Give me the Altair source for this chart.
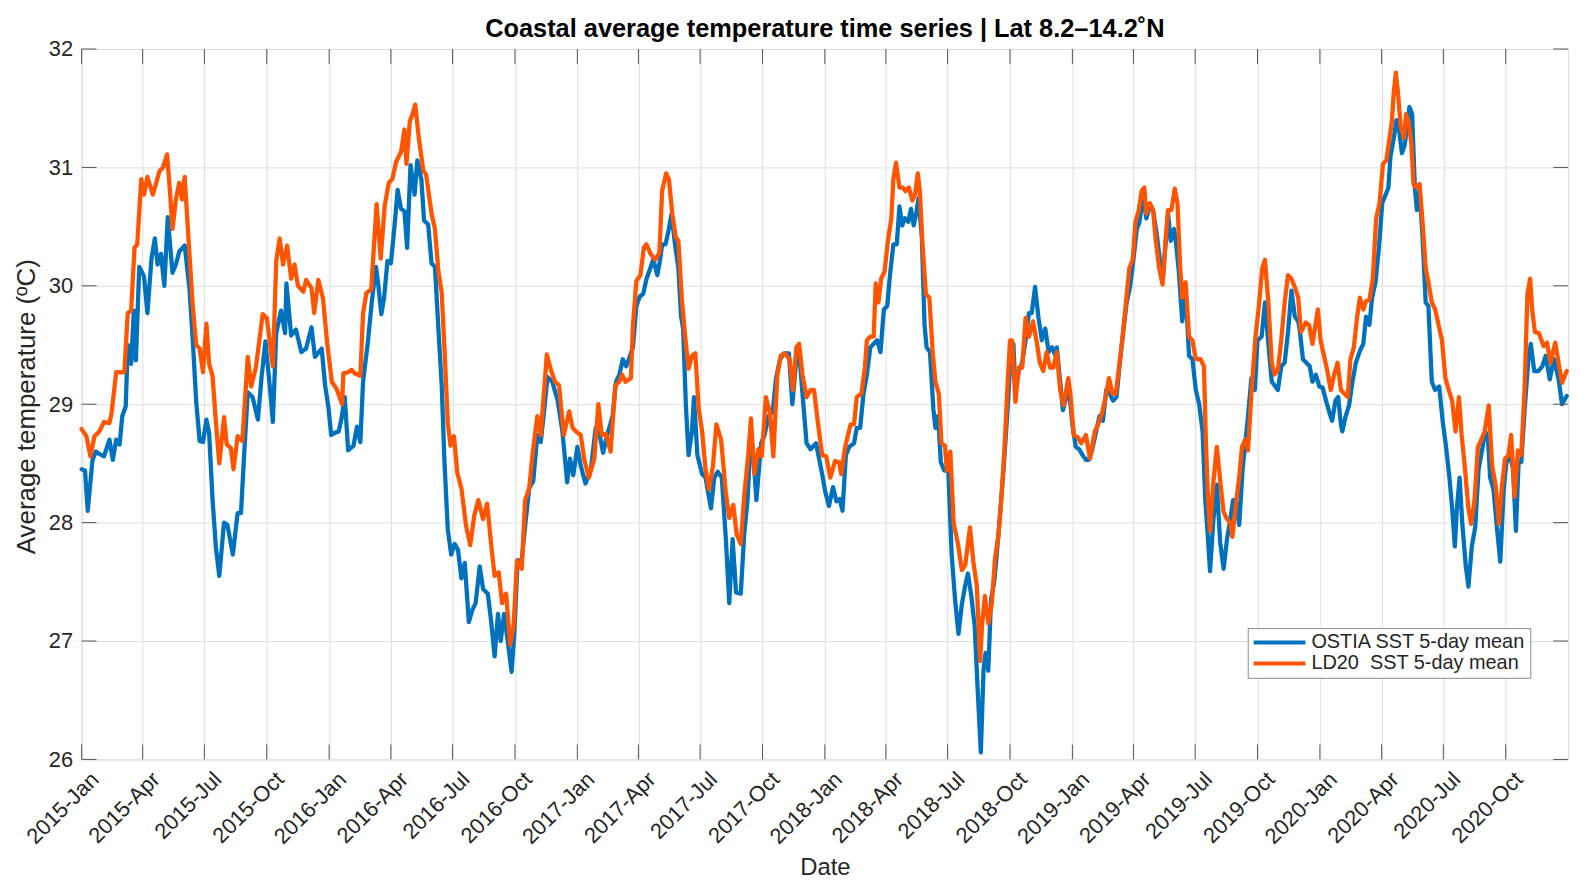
import altair as alt
import pandas as pd

FONT = "Liberation Sans"
TITLE = "Coastal average temperature time series | Lat 8.2–14.2˚N"
series_names = ["OSTIA SST 5-day mean", "LD20\u00a0 SST 5-day mean"]
series_colors = ["#0072BD", "#FF5500"]

# (day of year, temperature) pairs
ostia_2015 = [(0,28.45),(5,28.44),(9,28.1),(16,28.53),(21,28.6),(26,28.58),(33,28.56),(41,28.7),(46,28.53),(51,28.7),
              (56,28.66),(60,28.9),(65,28.98),(68,29.5),(73,29.34),(77,29.79),(80,29.37),(85,30.16),(92,30.08),(97,29.77),
              (103,30.23),(108,30.4),(112,30.18),(117,30.27),(122,30.0),(127,30.58),(134,30.11),(139,30.18),(144,30.29),(152,30.34),
              (159,29.98),(164,29.53),(169,29.02),(174,28.69),(179,28.68),(184,28.87),(188,28.76),(193,28.2),(198,27.79),(203,27.55),
              (210,28.0),(215,27.98),(223,27.73),(230,28.08),(235,28.08),(240,28.61),(245,29.1),(252,29.06),(260,28.87),(265,29.21),
              (271,29.53),(277,29.18),(282,28.85),(287,29.6),(294,29.79),(300,29.6),(302,30.02),(309,29.58),(316,29.63),(324,29.44),
              (331,29.47),(339,29.65),(344,29.4),(354,29.47)]
ostia_2016 = [(-6,29.16),(-1,28.97),(3,28.74),(9,28.76),(14,28.77),(18,28.87),(23,29.06),(28,28.61),(36,28.65),(41,28.81),
              (46,28.68),(50,29.19),(57,29.52),(63,29.87),(69,30.16),(72,30.03),(77,29.76),(81,29.9),(86,30.21),(91,30.19),
              (96,30.48),(101,30.81),(106,30.65),(111,30.63),(115,30.32),(120,31.02),(126,30.77),(130,31.06),(136,30.9),(140,30.55),
              (146,30.52),(151,30.19),(156,30.16),(161,29.65),(166,29.16),(170,28.52),(175,27.94),(180,27.73),(185,27.82),(190,27.77),
              (195,27.53),(200,27.66),(206,27.16),(211,27.26),(216,27.32),(222,27.63),(227,27.44),(234,27.4),(239,27.16),(244,26.87),
              (249,27.23),(253,27.0),(258,27.23),(264,26.97),(269,26.74),(273,27.06),(278,27.68),(284,27.68),(289,27.97),(295,28.29),
              (301,28.35),(307,28.74),(312,28.68),(317,28.94),(322,29.23),(329,29.19),(337,29.03),(344,28.77),(351,28.34)]
ostia_2017 = [(-11,28.54),(-6,28.4),(0,28.64),(5,28.48),(12,28.33),(20,28.45),(27,28.8),(33,28.74),(38,28.59),(44,28.74),
              (52,28.9),(57,29.19),(62,29.25),(67,29.38),(72,29.32),(76,29.38),(82,29.48),(87,29.83),(92,29.91),(97,29.93),
              (102,30.06),(107,30.14),(112,30.22),(118,30.09),(122,30.22),(125,30.35),(130,30.35),(135,30.48),(139,30.61),(144,30.35),
              (149,30.15),(153,29.74),(156,29.64),(160,29.0),(164,28.57),(169,28.77),(172,29.06),(177,28.57),(184,28.41),(189,28.38),
              (197,28.12),(202,28.38),(207,28.43),(213,28.38),(219,27.86),(224,27.32),(229,27.86),(234,27.41),(241,27.4),(246,27.9),
              (251,28.19),(256,28.77),(261,28.45),(264,28.19),(271,28.67),(276,28.74),(282,28.9),(288,28.93),(293,29.22),(299,29.38),
              (305,29.43),(312,29.43),(317,29.0),(322,29.32),(327,29.45),(332,29.09),(338,28.67),(344,28.62),(352,28.67)]
ostia_2018 = [(-4,28.41),(1,28.25),(6,28.14),(12,28.3),(17,28.18),(22,28.2),(26,28.1),(31,28.57),(36,28.64),(43,28.67),
              (47,28.8),(52,28.8),(57,29.09),(62,29.25),(67,29.48),(72,29.51),(77,29.54),(82,29.44),(87,29.8),(92,29.83),
              (96,30.09),(101,30.35),(106,30.35),(110,30.67),(114,30.51),(118,30.57),(123,30.54),(127,30.65),(131,30.51),(135,30.62),
              (138,30.74),(143,30.41),(147,29.67),(150,29.48),(155,29.44),(160,28.96),(163,28.8),(167,28.9),(171,28.51),(176,28.44),
              (182,28.44),(187,27.73),(192,27.35),(197,27.06),(202,27.31),(207,27.47),(211,27.57),(216,27.38),(221,27.12),(226,26.51),
              (230,26.06),(234,26.76),(237,26.9),(241,26.75),(245,27.35),(250,27.51),(253,27.7),(258,28.05),(263,28.41),(268,28.83),
              (273,29.31),(278,29.51),(281,29.12),(286,29.28),(291,29.35),(296,29.54),(301,29.77),(305,29.77),(310,29.99),(315,29.73),
              (320,29.54),(325,29.64),(330,29.44),(335,29.48),(340,29.41)]
ostia_2019 = [(-23,29.48),(-18,29.19),(-14,28.95),(-9,29.06),(-5,29.12),(0,28.83),(5,28.64),(10,28.62),(15,28.57),(20,28.53),
              (24,28.53),(29,28.61),(35,28.77),(40,28.9),(45,28.86),(50,29.12),(55,29.09),(60,29.03),(65,29.06),(70,29.35),
              (75,29.61),(80,29.86),(85,29.99),(90,30.22),(95,30.48),(99,30.54),(104,30.77),(109,30.57),(114,30.67),(119,30.64),
              (124,30.45),(129,30.22),(133,30.03),(137,30.32),(141,30.61),(145,30.38),(150,30.48),(153,30.35),(157,30.12),(162,29.7),
              (167,29.96),(172,29.41),(177,29.38),(182,29.12),(187,29.0),(192,28.77),(196,28.19),(200,27.86),(203,27.59),(208,28.03),
              (213,28.32),(218,27.83),(223,27.61),(228,27.86),(233,28.03),(237,28.19),(241,28.19),(246,27.98),(251,28.45),(255,28.67),
              (259,28.9),(264,29.22),(269,29.12),(273,29.54),(279,29.57),(284,29.86),(289,29.51),(294,29.19),(298,29.16),(303,29.12),
              (308,29.32),(313,29.35),(318,29.61),(323,29.96),(328,29.74),(333,29.7)]
ostia_2020 = [(-30,29.64),(-25,29.38),(-20,29.35),(-15,29.32),(-11,29.19),(-6,29.25),(-1,29.15),(4,29.14),(9,29.03),(14,28.93),
              (18,28.86),(23,29.03),(27,29.06),(31,28.83),(33,28.77),(38,28.9),(43,28.99),(48,29.19),(53,29.35),(59,29.45),
              (64,29.51),(68,29.74),(73,29.67),(77,29.9),(82,30.03),(87,30.32),(92,30.7),(97,30.77),(101,30.83),(104,31.09),
              (109,31.25),(113,31.4),(116,31.35),(121,31.12),(125,31.19),(129,31.36),(132,31.51),(136,31.45),(140,30.83),(143,30.64),
              (147,30.8),(151,30.45),(156,29.86),(160,29.83),(165,29.19),(170,29.12),(176,29.15),(181,28.86),(186,28.64),(191,28.38),
              (195,28.12),(199,27.8),(202,28.12),(206,28.38),(210,27.99),(215,27.64),(219,27.46),(224,27.8),(229,27.96),(234,28.45),
              (239,28.61),(244,28.77),(248,28.7),(251,28.38),(256,28.28),(261,27.96),(266,27.67),(271,28.28),(275,28.51),(280,28.57),
              (285,28.45),(289,27.93),(293,28.51),(297,28.51),(302,28.96),(307,29.35),(311,29.51),(316,29.28),(322,29.28),(328,29.32),
              (333,29.41),(339,29.21),(345,29.38),(352,29.21),(357,29.0),(364,29.07)]

ld20_2015 = [(0,28.79),(7,28.73),(13,28.56),(19,28.73),(26,28.77),(33,28.85),(41,28.84),(44,28.92),(51,29.27),(58,29.27),
             (63,29.27),(68,29.77),(73,29.79),(78,30.32),(82,30.35),(88,30.9),(92,30.77),(97,30.92),(105,30.77),(110,30.87),
             (115,30.97),(120,31.0),(126,31.11),(130,30.82),(134,30.48),(139,30.73),(144,30.87),(148,30.73),(152,30.92),(159,30.27),
             (164,29.82),(169,29.5),(174,29.47),(179,29.27),(184,29.68),(188,29.34),(193,29.24),(198,28.85),(203,28.5),(210,28.89),
             (214,28.66),(220,28.63),(224,28.45),(230,28.73),(237,28.69),(245,29.4),(250,29.15),(257,29.31),(267,29.76),(273,29.73),
             (282,29.32),(287,30.21),(292,30.4),(297,30.18),(303,30.34),(309,30.06),(314,30.18),(319,30.0),(327,29.95),(331,30.05),
             (339,29.98),(343,29.77),(349,30.05),(356,29.89)]
ld20_2016 = [(-3,29.52),(4,29.19),(11,29.13),(19,29.0),(21,29.26),(28,29.27),(33,29.29),(38,29.26),(46,29.24),(50,29.77),
             (55,29.94),(62,29.97),(70,30.69),(76,30.23),(82,30.68),(88,30.87),(93,30.9),(99,31.05),(106,31.13),(111,31.32),
             (114,31.03),(119,31.39),(123,31.45),(127,31.53),(132,31.26),(139,30.97),(143,30.94),(151,30.61),(156,30.48),(161,30.13),
             (166,29.94),(170,29.48),(175,28.84),(179,28.65),(184,28.73),(189,28.42),(195,28.29),(202,27.97),(208,27.81),(214,28.06),
             (220,28.19),(227,28.03),(233,28.16),(239,27.81),(244,27.55),(250,27.58),(255,27.32),(261,27.4),(267,26.97),(272,27.13),
             (277,27.68),(284,27.61),(289,28.19),(295,28.29),(300,28.58),(307,28.9),(312,28.74),(321,29.42),(327,29.29),(333,29.19),
             (339,29.16),(346,28.74),(354,28.94)]
ld20_2017 = [(-7,28.8),(-2,28.77),(5,28.74),(10,28.54),(17,28.38),(25,28.54),(31,29.0),(36,28.74),(42,28.75),(49,28.6),
             (56,29.16),(62,29.19),(66,29.25),(71,29.19),(79,29.22),(82,29.67),(87,30.04),(93,30.09),(98,30.32),(102,30.35),
             (108,30.27),(115,30.22),(121,30.28),(125,30.8),(131,30.95),(135,30.9),(140,30.61),(145,30.41),(149,30.38),(154,29.9),
             (159,29.57),(164,29.3),(169,29.41),(174,29.43),(179,28.96),(184,28.77),(189,28.45),(194,28.28),(200,28.48),(205,28.83),
             (212,28.7),(219,28.25),(224,28.04),(230,28.15),(235,27.9),(241,27.82),(246,28.22),(252,28.57),(256,28.88),(261,28.41),
             (267,28.62),(272,28.56),(278,29.06),(284,28.93),(289,28.56),(295,29.25),(300,29.41),(306,29.43),(313,29.38),(318,29.12),
             (323,29.48),(327,29.51),(332,29.25),(338,29.06),(344,29.12),(349,29.12)]
ld20_2018 = [(-10,28.83),(-4,28.57),(2,28.56),(8,28.38),(15,28.52),(21,28.51),(24,28.41),(30,28.64),(38,28.83),(43,28.83),
             (47,29.06),(54,29.09),(59,29.31),(62,29.54),(67,29.57),(72,29.57),(75,30.02),(79,29.86),(83,30.06),(88,30.12),
             (93,30.38),(98,30.57),(101,30.9),(105,31.04),(110,30.83),(115,30.83),(119,30.8),(124,30.83),(129,30.72),(133,30.77),
             (137,30.95),(140,30.8),(144,30.35),(149,29.93),(154,29.9),(159,29.44),(163,29.19),(168,29.09),(172,28.67),(177,28.65),
             (180,28.44),(185,28.6),(190,27.99),(196,27.83),(202,27.6),(207,27.64),(214,27.96),(219,27.67),(224,27.47),(229,26.83),
             (232,27.15),(236,27.38),(241,27.15),(246,27.31),(251,27.7),(256,27.89),(260,28.18),(265,28.64),(269,29.12),(273,29.54),
             (276,29.54),(281,29.02),(286,29.31),(291,29.31),(296,29.73),(301,29.57),(307,29.7),(312,29.54),(317,29.35),(322,29.28),
             (327,29.44),(332,29.31),(337,29.31),(342,29.44)]
ld20_2019 = [(-18,29.12),(-13,28.99),(-6,29.22),(-3,29.09),(2,28.74),(8,28.72),(13,28.67),(20,28.74),(26,28.54),(33,28.77),
             (38,28.83),(44,28.93),(49,29.06),(54,29.22),(59,29.09),(64,29.09),(69,29.32),(74,29.57),(79,29.86),(84,30.15),
             (89,30.22),(93,30.54),(98,30.64),(102,30.8),(106,30.83),(109,30.61),(114,30.7),(119,30.64),(123,30.38),(128,30.15),
             (133,30.01),(137,30.35),(141,30.64),(146,30.64),(151,30.82),(155,30.7),(159,30.15),(162,29.9),(167,30.03),(172,29.57),
             (177,29.54),(182,29.38),(189,29.38),(194,29.32),(197,28.67),(200,28.19),(203,27.93),(208,28.35),(213,28.64),(218,28.35),
             (223,28.09),(228,28.03),(233,28.0),(236,27.88),(241,28.15),(246,28.38),(250,28.64),(255,28.7),(259,28.61),(264,29.09),
             (270,29.57),(275,29.83),(280,30.15),(284,30.22),(289,29.86),(294,29.35),(298,29.25),(303,29.29),(308,29.54),(313,29.86),
             (318,30.09),(323,30.06),(328,29.99),(333,29.9)]
ld20_2020 = [(-28,29.61),(-21,29.69),(-16,29.67),(-11,29.51),(-3,29.8),(1,29.54),(6,29.41),(11,29.28),(16,29.12),(21,29.25),
             (26,29.35),(31,29.12),(36,29.09),(41,29.06),(45,29.38),(50,29.48),(55,29.74),(59,29.9),(64,29.8),(68,29.87),
             (73,29.88),(78,30.06),(83,30.57),(88,30.7),(93,31.03),(98,31.06),(102,31.22),(106,31.38),(109,31.64),(112,31.8),
             (115,31.64),(119,31.35),(124,31.25),(127,31.45),(131,31.38),(135,31.19),(138,30.86),(142,30.83),(147,30.86),(151,30.57),
             (156,30.15),(160,30.03),(165,29.86),(170,29.8),(175,29.67),(180,29.54),(185,29.22),(190,29.12),(195,29.03),(200,28.77),
             (205,29.06),(209,28.74),(214,28.45),(219,28.12),(223,27.99),(228,28.19),(233,28.64),(238,28.7),(243,28.77),(249,28.99),
             (254,28.48),(259,28.32),(264,27.99),(268,28.28),(273,28.54),(278,28.57),(282,28.74),(287,28.22),(292,28.61),(297,28.57),
             (302,29.15),(306,29.93),(310,30.06),(313,29.8),(317,29.61),(323,29.6),(330,29.49),(335,29.52),(340,29.35),(347,29.52),
             (352,29.35),(357,29.18),(364,29.28)]

quarter_ticks = ["2015-01-01","2015-04-01","2015-07-01","2015-10-01",
                 "2016-01-01","2016-04-01","2016-07-01","2016-10-01",
                 "2017-01-01","2017-04-01","2017-07-01","2017-10-01",
                 "2018-01-01","2018-04-01","2018-07-01","2018-10-01",
                 "2019-01-01","2019-04-01","2019-07-01","2019-10-01",
                 "2020-01-01","2020-04-01","2020-07-01","2020-10-01"]
y_ticks = [26, 27, 28, 29, 30, 31, 32]

ostia_years = {2015: ostia_2015, 2016: ostia_2016, 2017: ostia_2017, 2018: ostia_2018, 2019: ostia_2019, 2020: ostia_2020}
ld20_years = {2015: ld20_2015, 2016: ld20_2016, 2017: ld20_2017, 2018: ld20_2018, 2019: ld20_2019, 2020: ld20_2020}

rows = []
for name, years in [(series_names[0], ostia_years), (series_names[1], ld20_years)]:
    for year, pairs in years.items():
        base = pd.Timestamp(f"{year}-01-01")
        for d, v in pairs:
            rows.append({"date": (base + pd.Timedelta(days=d)).strftime("%Y-%m-%d"), "sst": v, "series": name})
df = pd.DataFrame(rows)

def dt(s):
    return alt.DateTime(year=int(s[:4]), month=int(s[5:7]), date=int(s[8:10]), utc=True)

TXT = "#262626"
W, H = 1494, 714
x_scale = alt.Scale(type="utc", domain=[dt("2015-01-01"), dt("2021-01-01")], nice=False)
y_scale = alt.Scale(domain=[26, 32], nice=False, zero=False)

x_axis = alt.Axis(values=[dt(s) for s in quarter_ticks], labelExpr="utcFormat(datum.value, '%Y-%b')",
                  labelAngle=-45, labelAlign="right", labelBaseline="top", labelPadding=9, labelOffset=6,
                  labelFont=FONT, labelFontSize=22, labelColor=TXT, labelOverlap=False, labelFlush=False,
                  labelBound=False, ticks=False, tickSize=0, domain=False, grid=True, gridColor="#DFDFDF",
                  gridWidth=1, title="Date", titleFont=FONT, titleFontSize=24, titleFontWeight="normal",
                  titleColor=TXT, titleY=116, titleBaseline="alphabetic", titleAlign="center")
y_axis = alt.Axis(values=y_ticks, format="d", labelFont=FONT, labelFontSize=22, labelColor=TXT,
                  labelPadding=9, ticks=False, tickSize=0, domain=False, grid=True, gridColor="#DFDFDF",
                  gridWidth=1, labelFlush=False, title="Average temperature (ºC)", titleFont=FONT,
                  titleFontSize=26, titleFontWeight="normal", titleColor=TXT, titleX=-47, titleY=H / 2 + 2,
                  titleAngle=-90, titleAlign="center", titleBaseline="alphabetic")

legend = alt.Legend(orient="none", legendX=1172, legendY=582, symbolType="stroke", symbolSize=2704,
                    symbolStrokeWidth=4, symbolOpacity=1, clipHeight=21, rowPadding=0, padding=4,
                    strokeColor="#8C8C8C", fillColor="white", labelFont=FONT, labelFontSize=20,
                    labelColor=TXT, labelOffset=4, labelLimit=600)
color = alt.Color("series:N", scale=alt.Scale(domain=series_names, range=series_colors), legend=legend, title=None)

X_ENC = dict(scale=x_scale, axis=x_axis, title="Date")
Y_ENC = dict(scale=y_scale, axis=y_axis, title="Average temperature (ºC)")

base = alt.Chart(df)
lines = []
for name in series_names:
    lines.append(base.transform_filter(alt.datum.series == name)
                 .mark_line(strokeWidth=4.3, strokeJoin="round", strokeCap="round")
                 .encode(x=alt.X("date:T", **X_ENC),
                         y=alt.Y("sst:Q", **Y_ENC),
                         color=color))

xt = alt.Chart(pd.DataFrame({"tick": quarter_ticks}))
yt = alt.Chart(pd.DataFrame({"t": y_ticks}))
TICK = "#555555"
tick_layers = [
    xt.mark_rule(color=TICK, strokeWidth=1).encode(x=alt.X("tick:T", **X_ENC), y=alt.value(H), y2=alt.value(H - 15)),
    xt.mark_rule(color=TICK, strokeWidth=1).encode(x=alt.X("tick:T", **X_ENC), y=alt.value(0), y2=alt.value(15)),
    yt.mark_rule(color=TICK, strokeWidth=1).encode(y=alt.Y("t:Q", **Y_ENC), x=alt.value(0), x2=alt.value(15)),
    yt.mark_rule(color=TICK, strokeWidth=1).encode(y=alt.Y("t:Q", **Y_ENC), x=alt.value(W - 15), x2=alt.value(W)),
]

chart = alt.layer(*lines, *tick_layers).properties(
    width=W, height=H,
    autosize=alt.AutoSizeParams(type="none"),
    padding={"left": 74, "top": 39, "right": 20, "bottom": 122},
    title=alt.Title(text=TITLE, font=FONT, fontSize=25.5, fontWeight="bold", color="#000000",
                    anchor="middle", frame="group", offset=9, baseline="alphabetic", dy=33),
).configure_view(stroke="#808080", strokeWidth=1).configure(background="white")

chart.save("out.html", embed_options={"renderer": "svg", "actions": False})
